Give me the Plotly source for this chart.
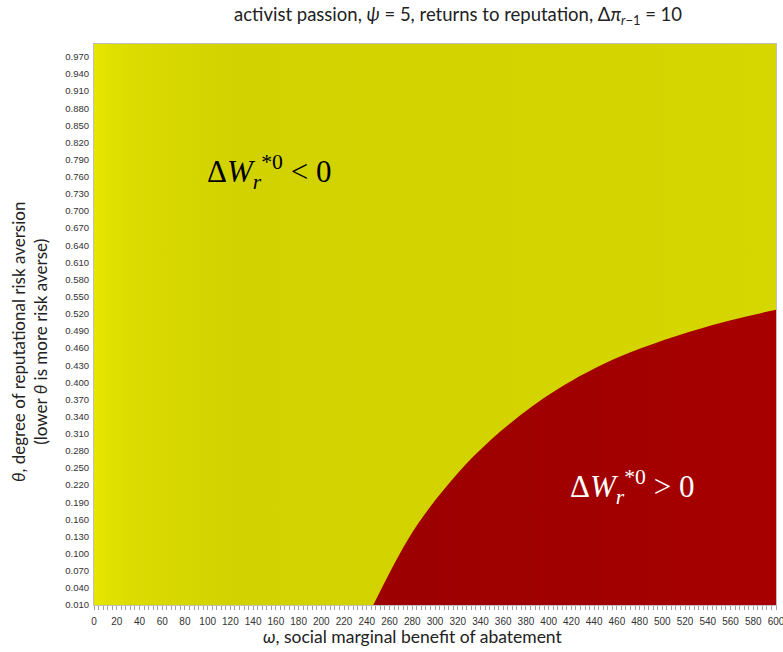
import plotly.graph_objects as go

# Boundary where the welfare change switches sign (omega vs theta)
omega_boundary = [245.7, 267.7, 285.3, 307.3, 333.7, 366.0, 407.1, 462.8, 542.0, 600.0]
theta_boundary = [0.010, 0.095, 0.153, 0.211, 0.270, 0.328, 0.387, 0.445, 0.499, 0.527]

# Axis extents and tick labels
omega_min, omega_max = 0, 600
theta_min, theta_max = 0.010, 0.9925
omega_ticks = list(range(0, 601, 20))
theta_ticks = [round(0.010 + 0.03 * i, 3) for i in range(33)]

fig = go.Figure()

# Negative region (background, shaded left to right)
fig.add_trace(go.Scatter(
    x=[omega_min, omega_max, omega_max, omega_min, omega_min],
    y=[theta_min, theta_min, theta_max, theta_max, theta_min],
    mode="lines", line=dict(width=0), fill="toself",
    fillgradient=dict(type="horizontal",
                      colorscale=[[0, "#e6e600"], [0.05, "#dcdc00"], [0.2, "#d2d200"],
                                  [0.6, "#d3d300"], [1, "#d6d600"]]),
    hoverinfo="skip", showlegend=False,
))

# Positive region (under the boundary)
fig.add_trace(go.Scatter(
    x=omega_boundary, y=theta_boundary,
    mode="lines", line=dict(width=0, shape="spline", smoothing=1.0),
    fill="tozeroy",
    fillgradient=dict(type="horizontal",
                      colorscale=[[0, "#9c0000"], [0.5, "#a00000"], [1, "#a80000"]]),
    hoverinfo="skip", showlegend=False,
))

math_font = dict(family="Liberation Serif, DejaVu Serif, serif", size=31)
fig.add_annotation(x=154, y=0.769, xref="x", yref="y", showarrow=False,
                   text="Δ<i>W</i><sub><i>r</i></sub><sup>*0</sup> &lt; 0",
                   font=dict(color="black", **math_font))
fig.add_annotation(x=473, y=0.217, xref="x", yref="y", showarrow=False,
                   text="Δ<i>W</i><sub><i>r</i></sub><sup>*0</sup> &gt; 0",
                   font=dict(color="white", **math_font))

title_font = dict(family="Lato, Open Sans, sans-serif", color="#222222")

# Axis titles
fig.add_annotation(x=0.4677, y=-0.0553, xref="paper", yref="paper",
                   xanchor="center", yanchor="middle", showarrow=False,
                   text="<i>ω</i>, social marginal benefit of abatement",
                   font=dict(size=17.5, **title_font))
fig.add_annotation(x=-0.0953, y=0.4688, xref="paper", yref="paper",
                   xanchor="center", yanchor="middle", showarrow=False, textangle=-90,
                   text="<i>θ</i>, degree of reputational risk aversion<br>"
                        "(lower <i>θ</i> is more risk averse)",
                   font=dict(size=17, **title_font))

fig.update_layout(
    width=783, height=652,
    margin=dict(l=94, r=7, t=44, b=47),
    paper_bgcolor="white", plot_bgcolor="white",
    title=dict(
        text="activist passion, <i>ψ</i> = 5, returns to reputation, "
             "Δ<i>π</i><sub><i>r</i>−1</sub> = 10",
        x=0.585, xref="container", xanchor="center",
        y=0.978, yref="container", yanchor="middle",
        font=dict(size=18.5, **title_font),
        automargin=False,
    ),
    font=dict(family="Liberation Sans, Arial, sans-serif", color="#333333"),
)

fig.update_xaxes(
    range=[omega_min, omega_max], tickmode="array", tickvals=omega_ticks,
    ticktext=[str(v) for v in omega_ticks],
    tickfont=dict(size=10, color="#333333"),
    ticklabeloverflow="allow", ticklabelstandoff=3, automargin=False,
    ticks="outside", ticklen=4, tickcolor="#a0a0a0",
    minor=dict(ticks="outside", dtick=4, ticklen=4, tickcolor="#a0a0a0"),
    showgrid=False, zeroline=False,
    showline=True, linecolor="#bfbfbf", linewidth=1, mirror=True,
)
fig.update_yaxes(
    range=[theta_min, theta_max], tickmode="array", tickvals=theta_ticks,
    ticktext=[f"{v:.3f}" for v in theta_ticks],
    tickfont=dict(size=9.5, color="#333333"),
    ticklabelstandoff=2, automargin=False,
    ticks="", showgrid=False, zeroline=False,
    showline=True, linecolor="#bfbfbf", linewidth=1, mirror=True,
)

fig.write_html("out.html")
